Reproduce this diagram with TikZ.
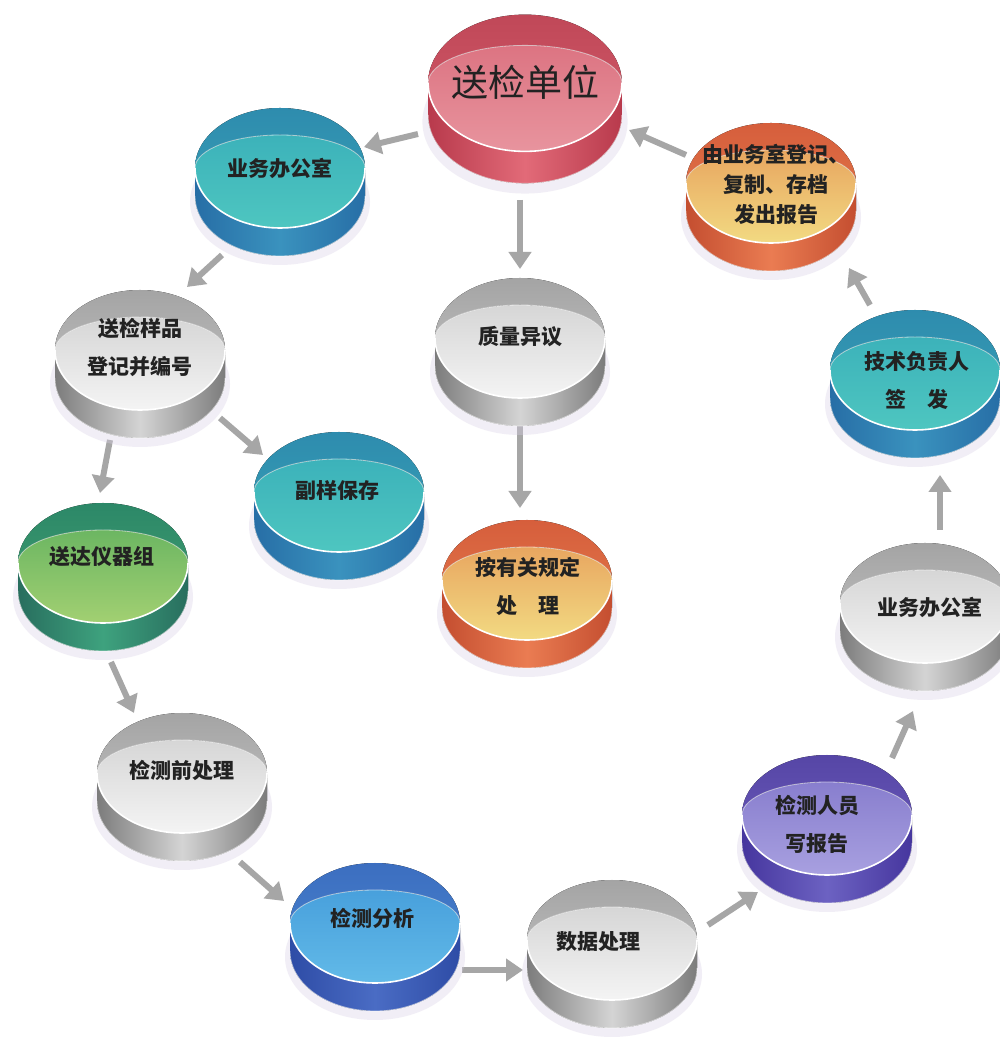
\documentclass[tikz,border=0pt]{standalone}
\usepackage{fontspec}
\newfontfamily\cjk{Noto Sans CJK SC}
\usetikzlibrary{arrows.meta}
% colour schemes: TA/TB top face, LA/LB lighter lens, SA/SB side (edge/middle)
\definecolor{redTA}{HTML}{C04858}\definecolor{redTB}{HTML}{D45C6C}
\definecolor{redLA}{HTML}{DC7482}\definecolor{redLB}{HTML}{E8949E}
\definecolor{redSA}{HTML}{B83A4C}\definecolor{redSB}{HTML}{E26A78}
\definecolor{tealTA}{HTML}{2E8CAE}\definecolor{tealTB}{HTML}{38A2B6}
\definecolor{tealLA}{HTML}{3CB2BA}\definecolor{tealLB}{HTML}{4EC6C0}
\definecolor{tealSA}{HTML}{276EA6}\definecolor{tealSB}{HTML}{3A92BE}
\definecolor{orgTA}{HTML}{D65E3C}\definecolor{orgTB}{HTML}{E47E4E}
\definecolor{orgLA}{HTML}{E8A660}\definecolor{orgLB}{HTML}{F2DA82}
\definecolor{orgSA}{HTML}{C44E30}\definecolor{orgSB}{HTML}{EA7C52}
\definecolor{grayTA}{HTML}{A4A4A4}\definecolor{grayTB}{HTML}{C6C6C6}
\definecolor{grayLA}{HTML}{D6D6D6}\definecolor{grayLB}{HTML}{F4F4F4}
\definecolor{graySA}{HTML}{7C7C7C}\definecolor{graySB}{HTML}{D4D4D4}
\definecolor{grnTA}{HTML}{2C8868}\definecolor{grnTB}{HTML}{44A070}
\definecolor{grnLA}{HTML}{6CB662}\definecolor{grnLB}{HTML}{A2D072}
\definecolor{grnSA}{HTML}{286E5E}\definecolor{grnSB}{HTML}{3EA27E}
\definecolor{bluTA}{HTML}{3C6EC0}\definecolor{bluTB}{HTML}{4A88D0}
\definecolor{bluLA}{HTML}{48A0DC}\definecolor{bluLB}{HTML}{62BAE8}
\definecolor{bluSA}{HTML}{2E4CA6}\definecolor{bluSB}{HTML}{4A6CC4}
\definecolor{purTA}{HTML}{5646A6}\definecolor{purTB}{HTML}{6E5EBE}
\definecolor{purLA}{HTML}{887ECE}\definecolor{purLB}{HTML}{A8A0E0}
\definecolor{purSA}{HTML}{46369E}\definecolor{purSB}{HTML}{6C62C2}
\definecolor{shadowc}{HTML}{D8D0E6}
\definecolor{arrowc}{HTML}{A6A6A6}
\definecolor{txtc}{HTML}{222222}
\tikzset{
  flowarrow/.style={line width=6pt, draw=arrowc, -{Triangle[length=17pt,width=22pt]}},
  lbl/.style={text=txtc, font=\cjk\bfseries\fontsize{21}{38}\selectfont, align=center, inner sep=0pt},
  biglbl/.style={text=txtc, font=\cjk\fontsize{37}{40}\selectfont, inner sep=0pt},
}
% #1 cx, #2 cy (pixel, y down, centre of top face), #3 scale, #4 scheme
\newcommand\puck[4]{%
\begin{scope}[shift={(#1,{1039-#2})},scale=#3]
  \fill[shadowc,opacity=0.35] (0,-34) ellipse[x radius=90,y radius=63];
  \fill[left color=#4SA, right color=#4SA, middle color=#4SB]
    (-85,0) -- (-85,-28) arc[start angle=180,end angle=360,x radius=85,y radius=60]
    -- (85,0) arc[start angle=0,end angle=-180,x radius=85,y radius=60] -- cycle;
  \draw[white,line width=0.8pt,opacity=0.6] (-85,-28) arc[start angle=180,end angle=360,x radius=85,y radius=60];
  \fill[top color=#4TA, bottom color=#4TB] (0,0) ellipse[x radius=85,y radius=60];
  \fill[top color=#4LA, bottom color=#4LB]
    (-85,0) arc[start angle=180,end angle=0,x radius=85,y radius=33]
    arc[start angle=0,end angle=-180,x radius=85,y radius=60] -- cycle;
  \draw[white,line width=0.8pt,opacity=0.6] (-85,0) arc[start angle=180,end angle=0,x radius=85,y radius=33];
  \draw[white,line width=1.6pt] (-85,0) arc[start angle=180,end angle=360,x radius=85,y radius=60];
\end{scope}}
\begin{document}
\begin{tikzpicture}[x=1pt,y=1pt]
\useasboundingbox (0,0) rectangle (999,1039);
\fill[white] (0,0) rectangle (999,1039);
% arrow end points (pixel x, 1039 - pixel y)
\coordinate (a1s) at (418,905); \coordinate (a1e) at (364,892);
\coordinate (a2s) at (222,784); \coordinate (a2e) at (187,752);
\coordinate (a3s) at (520,839); \coordinate (a3e) at (520,770);
\coordinate (a4s) at (520,624); \coordinate (a4e) at (520,531);
\coordinate (a5s) at (220,621); \coordinate (a5e) at (263,584);
\coordinate (a6s) at (110,599); \coordinate (a6e) at (100,546);
\coordinate (a7s) at (111,377); \coordinate (a7e) at (134,326);
\coordinate (a8s) at (240,177); \coordinate (a8e) at (284,138);
\coordinate (a9s) at (462,69);  \coordinate (a9e) at (523,69);
\coordinate (a10s) at (708,114); \coordinate (a10e) at (758,147);
\coordinate (a11s) at (892,281); \coordinate (a11e) at (913,328);
\coordinate (a12s) at (940,509); \coordinate (a12e) at (940,564);
\coordinate (a13s) at (870,734); \coordinate (a13e) at (849,771);
\coordinate (a14s) at (686,884); \coordinate (a14e) at (629,909);
\foreach \s/\e in {a1s/a1e,a2s/a2e,a3s/a3e,a4s/a4e,a5s/a5e,a6s/a6e,a7s/a7e,a8s/a8e,a9s/a9e,a10s/a10e,a11s/a11e,a12s/a12e,a13s/a13e,a14s/a14e}
  \draw[flowarrow] (\s) -- (\e);
% pucks
\puck{525}{83}{1.14}{red}
\puck{280}{168}{1}{teal}
\puck{771}{183}{1}{org}
\puck{140}{350}{1}{gray}
\puck{520}{338}{1}{gray}
\puck{339}{492}{1}{teal}
\puck{103}{563}{1}{grn}
\puck{527}{580}{1}{org}
\puck{915}{370}{1}{teal}
\puck{925}{603}{1}{gray}
\puck{182}{773}{1}{gray}
\puck{375}{923}{1}{blu}
\puck{612}{940}{1}{gray}
\puck{827}{815}{1}{pur}
% labels
\node[biglbl] (t1) at (525,957) {送检单位};
\node[lbl] (t2) at (280,871) {业务办公室};
\node[lbl,font=\cjk\bfseries\fontsize{21}{30}\selectfont] (t3) at (776,855) {由业务室登记、\\复制、存档\\发出报告};
\node[lbl] (t4) at (140,692) {送检样品\\登记并编号};
\node[lbl] (t5) at (520,702) {质量异议};
\node[lbl] (t6) at (337,549) {副样保存};
\node[lbl] (t7) at (102,482) {送达仪器组};
\node[lbl] (t8) at (528,453) {按有关规定\\处\quad 理};
\node[lbl] (t9) at (917,658) {技术负责人\\签\quad 发};
\node[lbl] (t10) at (930,432) {业务办公室};
\node[lbl] (t11) at (182,269) {检测前处理};
\node[lbl] (t12) at (372,121) {检测分析};
\node[lbl] (t13) at (598,97) {数据处理};
\node[lbl] (t14) at (817,215) {检测人员\\写报告};
\end{tikzpicture}
\end{document}
